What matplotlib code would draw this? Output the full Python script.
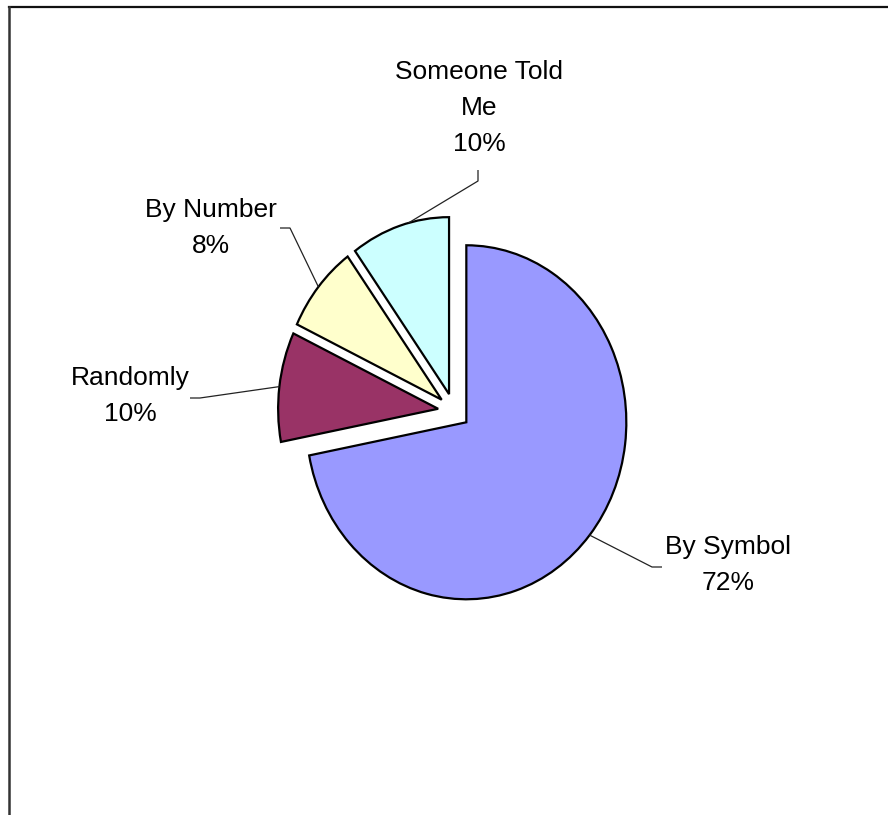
import numpy as np
import matplotlib
matplotlib.use("Agg")
import matplotlib.pyplot as plt
from matplotlib.lines import Line2D

categories = ["By Symbol", "Randomly", "By Number", "Someone Told Me"]
label_texts = ["By Symbol\n72%", "Randomly\n10%", "By Number\n8%", "Someone Told\nMe\n10%"]
values = [72, 10, 8, 10]
colors = ["#9999FF", "#993366", "#FFFFCC", "#CCFFFF"]
explode = [0.1, 0.1, 0.1, 0.1]

W, H = 888, 815
DPI = 100
fig = plt.figure(figsize=(W / DPI, H / DPI), dpi=DPI)
fig.patch.set_facecolor("white")
ax = fig.add_axes([0, 0, 1, 1])

# pixel geometry of the pie
CX, CY, RX, RY = 454, 411, 160, 177

def px2data(px, py):
    return ((px - CX) / RX, (CY - py) / RY)

wedges, _ = ax.pie(values, colors=colors, explode=explode, startangle=90,
                   counterclock=False, radius=1.0,
                   wedgeprops=dict(edgecolor="black", linewidth=1.6))
ax.set_aspect("auto")
ax.set_xlim((0 - CX) / RX, (W - CX) / RX)
ax.set_ylim((CY - H) / RY, (CY - 0) / RY)
ax.axis("off")

# label layout (pixel positions of text centers and leader elbows)
text_pos = [(728, 565), (130, 396), (211, 228), (479, 108)]
elbows = [((652, 567), (662, 567)), ((200, 398), (190, 398)),
          ((290, 228), (280, 228)), ((478, 181), (478, 170))]
angle_shift = [0, 0, 0, -3]

for w, v, lab, tp, el, ex, sh in zip(wedges, values, label_texts, text_pos, elbows, explode, angle_shift):
    mid = np.deg2rad((w.theta1 + w.theta2) / 2 + sh)
    r = 1.0 + ex
    sx, sy = r * np.cos(mid), r * np.sin(mid)
    e1 = px2data(*el[0])
    e2 = px2data(*el[1])
    ax.plot([sx, e1[0], e2[0]], [sy, e1[1], e2[1]], color="#222222", lw=0.9,
            solid_capstyle="butt", zorder=1)
    tx, ty = px2data(*tp)
    ax.text(tx, ty, lab, ha="center", va="center", fontsize=19,
            family="Liberation Sans", color="black", linespacing=1.62)

# outer frame (top and left visible)
fig.add_artist(Line2D([9 / W, 1.0], [1 - 7 / H, 1 - 7 / H], transform=fig.transFigure,
                      color="#111111", lw=1.6))
fig.add_artist(Line2D([9 / W, 9 / W], [0, 1 - 7 / H], transform=fig.transFigure,
                      color="#333333", lw=1.8))

fig.savefig("out.png", dpi=DPI, facecolor="white")
